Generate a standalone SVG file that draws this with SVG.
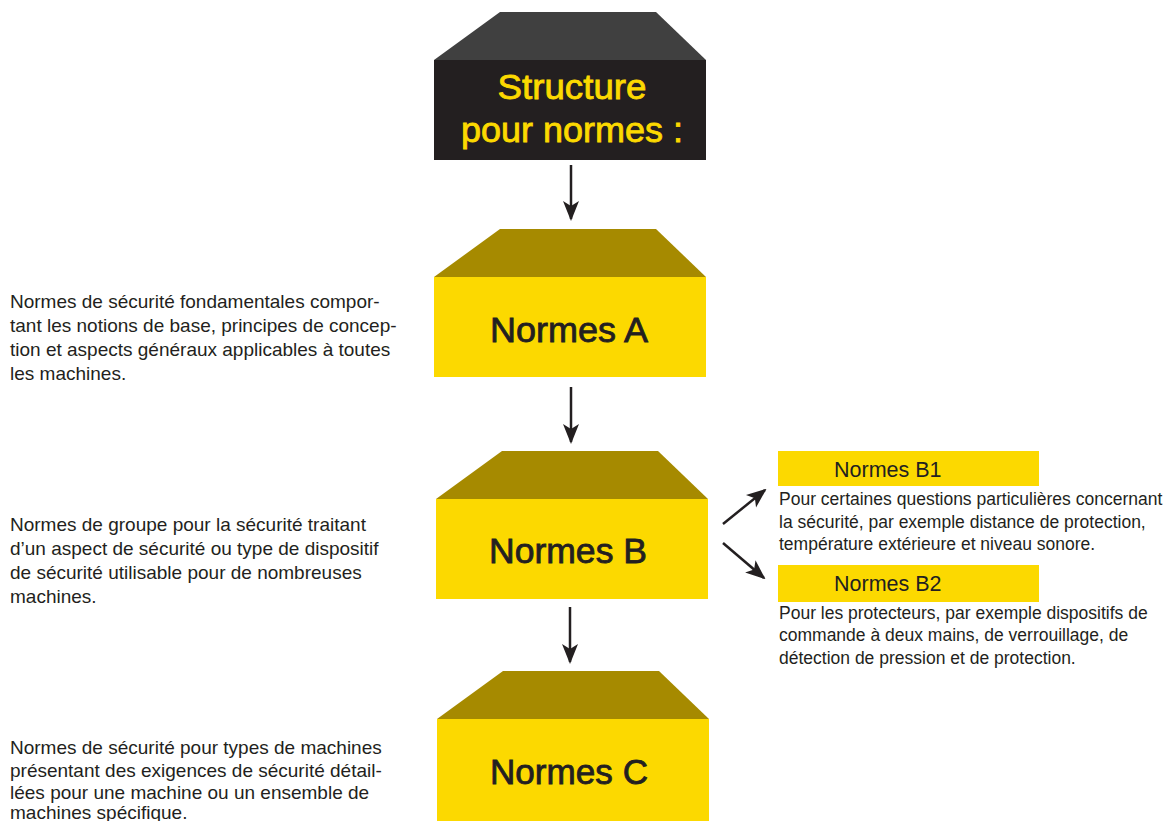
<svg xmlns="http://www.w3.org/2000/svg" width="1169" height="821" viewBox="0 0 1169 821">
<defs>
<marker id="ah" viewBox="0 0 20 20" refX="18" refY="10" markerWidth="20" markerHeight="20" markerUnits="userSpaceOnUse" orient="auto">
<path d="M0,2 L20,10 L0,18 L5,10 Z" fill="#231f20"/>
</marker>
<style>
.front{fill:#fcd900}
.top{fill:#a68a00}
.dfront{fill:#231f20}
.dtop{fill:#404040}
.big{font-family:"Liberation Sans",Arial,sans-serif;font-size:35px;fill:#231f20;stroke:#231f20;stroke-width:0.8;text-anchor:middle}
.title{font-family:"Liberation Sans",Arial,sans-serif;font-size:35px;fill:#fcd900;stroke:#fcd900;stroke-width:0.8;text-anchor:middle}
.desc{font-family:"Liberation Sans",Arial,sans-serif;font-size:19px;fill:#231f20}
.sdesc{font-family:"Liberation Sans",Arial,sans-serif;font-size:17.5px;fill:#231f20}
.lab{font-family:"Liberation Sans",Arial,sans-serif;font-size:21.5px;fill:#231f20}
.conn{stroke:#231f20;stroke-width:2.5;fill:none;marker-end:url(#ah)}
</style>
</defs>
<rect width="1169" height="821" fill="#ffffff"/>
<g id="structure">
<polygon class="dtop" points="500,12 656,12 706,60 434,60"/>
<rect class="dfront" x="434" y="60" width="272" height="100"/>
<text class="title" x="572" y="99" textLength="149" lengthAdjust="spacingAndGlyphs">Structure</text>
<text class="title" x="572" y="142" textLength="222" lengthAdjust="spacingAndGlyphs">pour normes :</text>
</g>
<g id="normesA">
<polygon class="top" points="500,229 656,229 706,277 434,277"/>
<rect class="front" x="434" y="277" width="272" height="100"/>
<text class="big" x="569" y="342" textLength="158" lengthAdjust="spacingAndGlyphs">Normes A</text>
</g>
<g id="normesB">
<polygon class="top" points="502,451 658,451 708,499 436,499"/>
<rect class="front" x="436" y="499" width="272" height="100"/>
<text class="big" x="568" y="563" textLength="158" lengthAdjust="spacingAndGlyphs">Normes B</text>
</g>
<g id="normesC">
<polygon class="top" points="503,671 659,671 709,719 437,719"/>
<rect class="front" x="437" y="719" width="272" height="102"/>
<text class="big" x="569" y="784" textLength="158" lengthAdjust="spacingAndGlyphs">Normes C</text>
</g>
<g id="normesB1">
<rect class="front" x="778" y="451" width="261" height="35"/>
<text class="lab" x="834" y="477">Normes B1</text>
<text class="sdesc" x="779" y="505">Pour certaines questions particulières concernant</text>
<text class="sdesc" x="779" y="528">la sécurité, par exemple distance de protection,</text>
<text class="sdesc" x="779" y="550">température extérieure et niveau sonore.</text>
</g>
<g id="normesB2">
<rect class="front" x="778" y="565" width="261" height="37"/>
<text class="lab" x="834" y="591">Normes B2</text>
<text class="sdesc" x="779" y="619">Pour les protecteurs, par exemple dispositifs de</text>
<text class="sdesc" x="779" y="641">commande à deux mains, de verrouillage, de</text>
<text class="sdesc" x="779" y="664">détection de pression et de protection.</text>
</g>
<g id="descA">
<text class="desc" x="10" y="308">Normes de sécurité fondamentales compor-</text>
<text class="desc" x="10" y="332">tant les notions de base, principes de concep-</text>
<text class="desc" x="10" y="356">tion et aspects généraux applicables à toutes</text>
<text class="desc" x="10" y="380">les machines.</text>
</g>
<g id="descB">
<text class="desc" x="10" y="531">Normes de groupe pour la sécurité traitant</text>
<text class="desc" x="10" y="555">d’un aspect de sécurité ou type de dispositif</text>
<text class="desc" x="10" y="579">de sécurité utilisable pour de nombreuses</text>
<text class="desc" x="10" y="603">machines.</text>
</g>
<g id="descC">
<text class="desc" x="10" y="754">Normes de sécurité pour types de machines</text>
<text class="desc" x="10" y="777">présentant des exigences de sécurité détail-</text>
<text class="desc" x="10" y="799">lées pour une machine ou un ensemble de</text>
<text class="desc" x="10" y="819">machines spécifique.</text>
</g>
<g id="connectors">
<line class="conn" x1="571" y1="165" x2="571" y2="219"/>
<line class="conn" x1="571" y1="387" x2="571" y2="442"/>
<line class="conn" x1="570" y1="607" x2="570" y2="662"/>
<line class="conn" x1="723" y1="524" x2="765" y2="490"/>
<line class="conn" x1="723" y1="543" x2="764" y2="578"/>
</g>
</svg>
